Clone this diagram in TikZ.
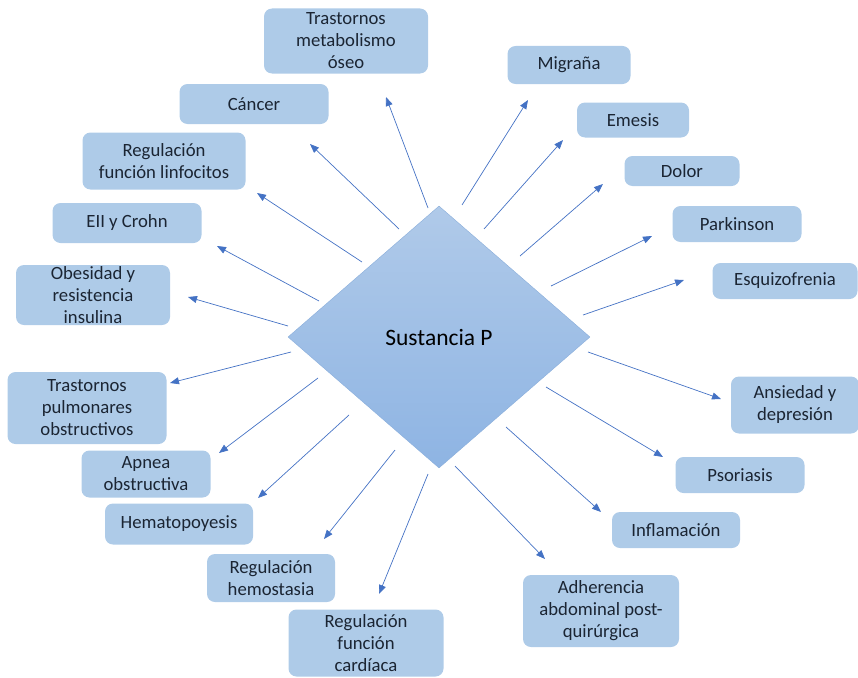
\documentclass[tikz,border=0pt]{standalone}
\usepackage{fontspec}
\setmainfont{Carlito}
\usetikzlibrary{shapes.geometric,arrows.meta}
\definecolor{cajaazul}{HTML}{AECBE8}
\definecolor{flechaazul}{HTML}{4472C4}
\definecolor{textoazul}{HTML}{1B2533}
\definecolor{rombosup}{HTML}{B0CAE9}
\definecolor{romboinf}{HTML}{8EB4E3}
\definecolor{rombobor}{HTML}{8AAEDB}
\begin{document}
\begin{tikzpicture}[x=1pt,y=-1pt,
    caja/.style 2 args={fill=cajaazul, rounded corners=8pt, inner sep=0pt,
        minimum width=#1, minimum height=#2, align=center, text=textoazul,
        font=\fontsize{18.7}{22}\selectfont},
    flecha/.style={-{Triangle[length=9pt,width=7pt]}, flechaazul, line width=0.7pt}]
    % marco
    \useasboundingbox (0,0) rectangle (858,677);

    % rombo central
    \node[diamond, draw=rombobor, top color=rombosup, bottom color=romboinf,
        minimum width=302pt, minimum height=262pt, inner sep=0pt,
        font=\fontsize{23.5}{28}\selectfont] (sp) at (439,337) {Sustancia P};

    % cajas a la izquierda
    \node[caja={164pt}{65pt}] (oseo) at (346,41) {Trastornos\\metabolismo\\óseo};
    \node[caja={149pt}{40pt}] (cancer) at (254,104) {Cáncer};
    \node[caja={163pt}{57pt}] (linfo) at (164,161) {Regulación\\función linfocitos};
    \node[caja={149pt}{40pt}] (crohn) at (127,223) {EII y Crohn};
    \node[caja={154pt}{60pt}] (obesidad) at (93,295) {Obesidad y\\resistencia\\insulina};
    \node[caja={159pt}{72pt}] (pulmon) at (87,408) {Trastornos\\pulmonares\\obstructivos};
    \node[caja={129pt}{47pt}] (apnea) at (146,474) {Apnea\\obstructiva};
    \node[caja={148pt}{41pt}] (hemato) at (179,524) {Hematopoyesis};
    \node[caja={128pt}{48pt}] (hemostasia) at (271,578) {Regulación\\hemostasia};
    \node[caja={155pt}{67pt}] (cardiaca) at (366,643) {Regulación\\función\\cardíaca};

    % cajas a la derecha
    \node[caja={123pt}{38pt}] (migrana) at (569,65) {Migraña};
    \node[caja={112pt}{35pt}] (emesis) at (633,120) {Emesis};
    \node[caja={115pt}{30pt}] (dolor) at (682,171) {Dolor};
    \node[caja={129pt}{36pt}] (parkinson) at (737,224) {Parkinson};
    \node[caja={145pt}{36pt}] (esquizo) at (785,281) {Esquizofrenia};
    \node[caja={128pt}{57pt}] (ansiedad) at (795,405) {Ansiedad y\\depresión};
    \node[caja={129pt}{36pt}] (psoriasis) at (740,475) {Psoriasis};
    \node[caja={128pt}{36pt}] (inflama) at (676,530) {Inflamación};
    \node[caja={156pt}{72pt}] (adherencia) at (601,611) {Adherencia\\abdominal post-\\quirúrgica};

    % flechas
    \foreach \n/\sx/\sy/\ex/\ey in {
        oseo/428/208/386/97, cancer/399/229/310/144, linfo/362/262/257/193,
        crohn/319/301/217/246, obesidad/288/326/188/297, pulmon/291/352/170/383,
        apnea/318/378/219/453, hemato/349/415/258/498, hemostasia/395/450/324/539,
        cardiaca/428/474/379/594, migrana/462/205/528/100, emesis/484/229/563/140,
        dolor/520/256/603/184, parkinson/551/286/652/236, esquizo/583/315/684/280,
        ansiedad/588/352/721/399, psoriasis/546/387/663/457, inflama/506/427/601/512,
        adherencia/455/466/545/559} {
        \coordinate (s-\n) at (\sx,\sy);
        \coordinate (e-\n) at (\ex,\ey);
        \draw[flecha] (s-\n) -- (e-\n);
    }
\end{tikzpicture}
\end{document}
